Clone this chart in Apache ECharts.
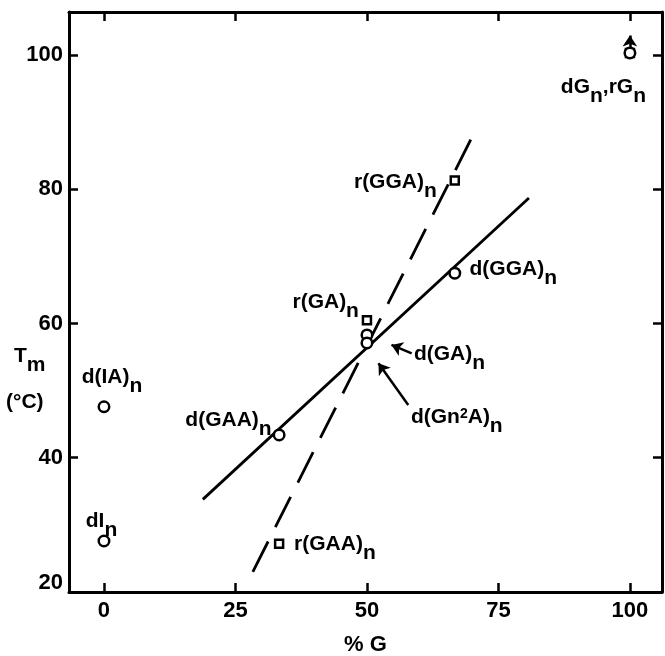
<!DOCTYPE html>
<html><head><meta charset="utf-8">
<script src="https://cdn.jsdelivr.net/npm/echarts@6/dist/echarts.min.js"></script>
<style>html,body{margin:0;padding:0;background:#fff}#c{width:665px;height:656px}</style>
</head><body><div id="c"></div>
<script>
// ---------- data ----------
const xTicks = [0, 25, 50, 75, 100];
const yTicks = [20, 40, 60, 80, 100];
const circleNames = ['d(IA)_n', 'dI_n', 'd(GAA)_n', 'd(GA)_n', 'd(Gn^2A)_n', 'd(GGA)_n', 'dG_n,rG_n'];
const circleX = [0, 0, 33.3, 50, 50, 66.7, 100];
const circleY = [47.6, 27.6, 43.4, 58.3, 57.1, 67.5, 100.3];
const squareNames = ['r(GAA)_n', 'r(GA)_n', 'r(GGA)_n', ''];
const squareX = [33.3, 50, 66.7, 100];
const squareY = [27.2, 60.5, 81.3, 100.3];
const solidFitX = [18.8, 80.8];
const solidFitY = [33.8, 78.7];
const dashFitX = [28.3, 70.2];
const dashFitY = [23.0, 88.1];
// annotation arrows: [fromX, fromY, toX, toY]
const arrowGA = [58.5, 55.56, 54.66, 56.8];
const arrowGn2A = [57.85, 47.86, 52.19, 54.09];
const arrowGn = [100, 101.04, 100, 102.9];

// ---------- styles ----------
const FONT = 'Liberation Sans';
const rich = {
  m: {fontFamily: FONT, fontWeight: 'bold', fontSize: 21, lineHeight: 22, verticalAlign: 'top', color: '#000'},
  s: {fontFamily: FONT, fontWeight: 'bold', fontSize: 21, lineHeight: 22, padding: [9, 0, 0, 0], verticalAlign: 'top', color: '#000'},
  p: {fontFamily: FONT, fontWeight: 'bold', fontSize: 14, lineHeight: 14, verticalAlign: 'top', color: '#000'}
};
function toRich(name) {
  if (!name) return '';
  let s = '{m|' + name.replace(/_n/g, '}{s|n}{m|').replace(/\^2/g, '}{p|2}{m|') + '}';
  return s.replace(/\{m\|\}/g, '');
}
const circleLabelCfg = [
  {position: 'top', distance: 11.5, offset: [8, 0]},
  {position: 'top', distance: 2, offset: [-2.5, 0]},
  {position: 'left', distance: 0, offset: [-1, -14.2]},
  {position: 'right', distance: 40.5, offset: [0, 20]},
  {position: 'right', distance: 37.5, offset: [0, 75]},
  {position: 'right', distance: 8.2, offset: [0, -3.3]},
  {position: 'bottom', distance: 17, offset: [-26.5, 0]}
];
const squareLabelCfg = [
  {position: 'right', distance: 9.75, offset: [0, 1]},
  {position: 'left', distance: 2.75, offset: [0, -17]},
  {position: 'left', distance: 12.75, offset: [0, 2.3]},
  {show: false}
];
const markerStyle = {color: '#fff', borderColor: '#000', borderWidth: 2.5, opacity: 1};

function pts(xs, ys, names, cfg) {
  return xs.map((x, i) => ({
    value: [x, ys[i]],
    label: Object.assign({show: !!names[i], formatter: toRich(names[i]), rich: rich,
      color: '#000', textBorderWidth: 0, opacity: 1}, cfg[i])
  }));
}
function arrow(a) {
  return [{coord: [a[0], a[1]]}, {coord: [a[2], a[3]]}];
}

const axisLineStyle = {show: true, onZero: false, lineStyle: {color: '#000', width: 3}};
const tickStyle = {show: true, inside: true, length: 9, lineStyle: {color: '#000', width: 2.5}};
const labelStyle = {fontFamily: FONT, fontWeight: 'bold', fontSize: 22, color: '#000'};

const chart = echarts.init(document.getElementById('c'), null, {renderer: 'canvas'});
chart.setOption({
  animation: false,
  backgroundColor: '#fff',
  grid: {left: 69, right: 3, top: 12, bottom: 64, containLabel: false, outerBoundsMode: 'none'},
  xAxis: [
    {type: 'value', position: 'bottom', min: -6.65, max: 106.1,
     axisLine: axisLineStyle,
     axisTick: Object.assign({customValues: xTicks}, tickStyle),
     axisLabel: Object.assign({customValues: xTicks, margin: 8}, labelStyle),
     splitLine: {show: false},
     name: '% G', nameLocation: 'middle', nameGap: 42, nameMoveOverlap: false,
     nameTextStyle: labelStyle},
    {type: 'value', position: 'top', min: -6.65, max: 106.1,
     axisLine: axisLineStyle,
     axisTick: Object.assign({customValues: xTicks}, tickStyle),
     axisLabel: {show: false}, splitLine: {show: false}}
  ],
  yAxis: [
    {type: 'value', position: 'left', min: 20, max: 106.4,
     axisLine: axisLineStyle,
     axisTick: Object.assign({customValues: yTicks.slice(1)}, tickStyle),
     axisLabel: Object.assign({customValues: yTicks, margin: 6,
       formatter: v => v === 20 ? '{lo|20}' : String(v),
       rich: {lo: Object.assign({padding: [0, 0, 18, 0]}, labelStyle)}}, labelStyle),
     splitLine: {show: false}},
    {type: 'value', position: 'right', min: 20, max: 106.4,
     axisLine: axisLineStyle,
     axisTick: Object.assign({customValues: yTicks.slice(1)}, tickStyle),
     axisLabel: {show: false}, splitLine: {show: false}}
  ],
  graphic: [
    {type: 'text', left: 14, top: 346, style: {text: '{m|T}{s|m}', rich: rich}},
    {type: 'text', left: 6, top: 392, style: {text: '(°C)', font: 'bold 21px "Liberation Sans"', fill: '#000'}}
  ],
  series: [
    {type: 'line', name: 'fit d', data: solidFitX.map((x, i) => [x, solidFitY[i]]),
     symbol: 'none', lineStyle: {color: '#000', width: 2.8}, z: 1,
     markLine: {silent: true, animation: false, symbol: ['none', 'arrow'], symbolSize: 11,
       label: {show: false},
       lineStyle: {color: '#000', width: 2.5, type: 'solid'},
       data: [arrow(arrowGA), arrow(arrowGn2A), arrow(arrowGn)]}},
    {type: 'line', name: 'fit r', data: dashFitX.map((x, i) => [x, dashFitY[i]]),
     symbol: 'none', lineStyle: {color: '#000', width: 2.8, type: [34, 16]}, z: 1},
    {type: 'scatter', name: 'RNA', symbol: 'rect', symbolSize: 8,
     itemStyle: markerStyle, data: pts(squareX, squareY, squareNames, squareLabelCfg), z: 3},
    {type: 'scatter', name: 'DNA', symbol: 'circle', symbolSize: 10.5,
     itemStyle: markerStyle, data: pts(circleX, circleY, circleNames, circleLabelCfg), z: 4}
  ]
});
</script>
</body></html>
